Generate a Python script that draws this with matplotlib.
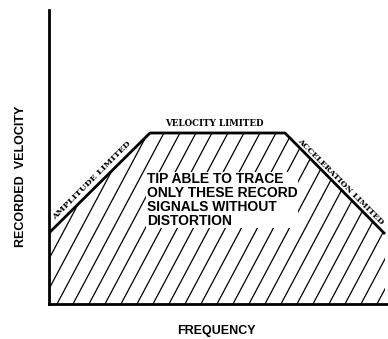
#!/usr/bin/env python3
"""Stylus tracing limits: recorded velocity vs frequency (amplitude / velocity / acceleration limited)."""
import numpy as np
import matplotlib; matplotlib.use("Agg")
import matplotlib.pyplot as plt
from matplotlib.patches import Polygon

# breakpoints of the tracing envelope (arbitrary units, 1 unit ~ 50 px)
freq = [0.0, 2.02, 4.72, 6.72]
velocity = [1.42, 3.42, 3.42, 1.40]
regions = ["AMPLITUDE LIMITED", "VELOCITY LIMITED", "ACCELERATION LIMITED"]
note = "TIP ABLE TO TRACE\nONLY THESE RECORD\nSIGNALS WITHOUT\nDISTORTION"

W, H = 388, 339
fig = plt.figure(figsize=(W / 100, H / 100), dpi=100)
ax = fig.add_axes([49 / W, 35 / H, (W - 49) / W, 294 / H])
ax.set_xlim(0, (W - 49) / 50)
ax.set_ylim(0, 294 / 50)
for s in ("top", "right"):
    ax.spines[s].set_visible(False)
for s in ("left", "bottom"):
    ax.spines[s].set_linewidth(2.0)
ax.set_xticks([]); ax.set_yticks([])

# region under the envelope, hatched by hand so the hatch angle can be steep
poly = Polygon(list(zip(freq, velocity)) + [(freq[-1], 0), (freq[0], 0)], closed=True,
               facecolor="none", edgecolor="none")
ax.add_patch(poly)
ang = np.radians(62); step = 0.32
for x0 in np.arange(-4, 8, step):
    ln, = ax.plot([x0, x0 + 6 / np.tan(ang)], [0, 6], color="black", lw=0.9, zorder=1)
    ln.set_clip_path(poly)

ax.plot(freq, velocity, color="black", lw=2.0, solid_capstyle="butt", zorder=3)

serif = dict(family="DejaVu Serif", weight="bold", ha="center", va="center")
ax.text(0.86, 2.47, regions[0], rotation=45, fontsize=6.1, **serif)
ax.text(3.30, 3.61, regions[1], fontsize=6.2, **serif)
ax.text(5.83, 2.45, regions[2], rotation=-45, fontsize=5.9, **serif)

ax.text(1.96, 2.08, note, ha="left", va="center", family="Liberation Sans", weight="bold",
        fontsize=10, linespacing=0.98, zorder=4,
        bbox=dict(facecolor="white", edgecolor="none", pad=0.5))

fig.text(21 / W, 1 - 176 / H, "RECORDED  VELOCITY", rotation=90, ha="center", va="center",
         family="Liberation Sans", weight="bold", fontsize=9)
fig.text(216 / W, 1 - 331 / H, "FREQUENCY", ha="center", va="center",
         family="Liberation Sans", weight="bold", fontsize=9)

fig.savefig("out.png", dpi=100)
